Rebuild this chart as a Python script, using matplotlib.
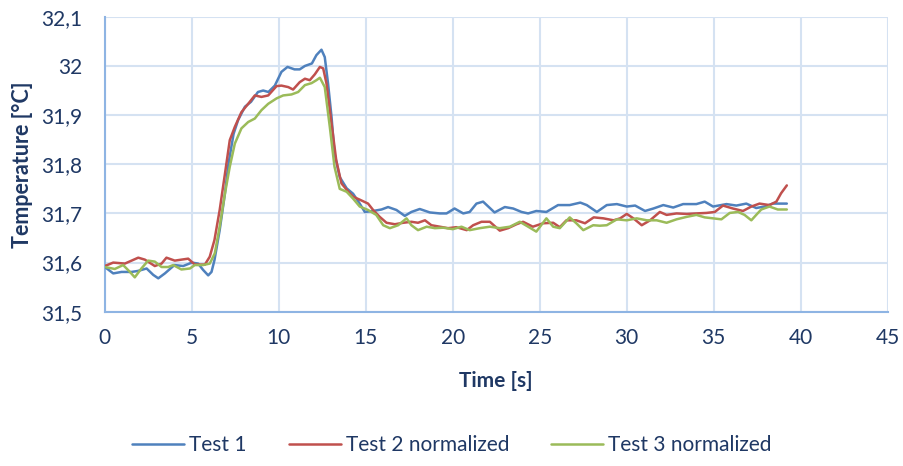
import matplotlib
matplotlib.use("Agg")
import matplotlib.pyplot as plt
from matplotlib.ticker import FuncFormatter

# Test 1
t1 = [0, 0.48, 0.96, 1.53, 1.9, 2.4, 2.78, 3.07, 3.45, 4.0, 4.5, 5.0, 5.36, 5.65, 5.94,
      6.13, 6.3, 6.6, 6.9, 7.1, 7.4, 7.66, 8.05, 8.4, 8.8, 9.1, 9.4, 9.77, 10.15, 10.5,
      10.9, 11.2, 11.5, 11.9, 12.16, 12.45, 12.64, 12.83, 13.03, 13.2, 13.5, 13.9, 14.27,
      14.65, 14.94, 15.42, 15.9, 16.28, 16.76, 17.24, 17.62, 18.1, 18.68, 19.25, 19.64,
      20.1, 20.6, 20.97, 21.36, 21.74, 22.4, 22.99, 23.47, 23.95, 24.33, 24.8, 25.38,
      26.05, 26.72, 27.33, 27.7, 28.28, 28.85, 29.43, 30.0, 30.48, 31.05, 31.53, 32.1,
      32.67, 33.24, 34.0, 34.48, 34.96, 35.73, 36.3, 36.87, 37.44, 37.92, 38.4, 39.2]
temp1 = [31.591, 31.578, 31.581, 31.581, 31.583, 31.588, 31.575, 31.568, 31.578, 31.595,
         31.593, 31.600, 31.598, 31.585, 31.574, 31.581, 31.605, 31.666, 31.74, 31.80,
         31.862, 31.89, 31.917, 31.927, 31.947, 31.95, 31.947, 31.96, 31.988, 31.998,
         31.993, 31.993, 32.0, 32.005, 32.022, 32.033, 32.018, 31.964, 31.896, 31.822,
         31.774, 31.751, 31.74, 31.72, 31.703, 31.705, 31.708, 31.713, 31.707, 31.695,
         31.703, 31.709, 31.702, 31.70, 31.70, 31.71, 31.70, 31.703, 31.72, 31.724,
         31.702, 31.713, 31.71, 31.703, 31.70, 31.705, 31.703, 31.717, 31.717, 31.722,
         31.717, 31.703, 31.717, 31.719, 31.714, 31.716, 31.705, 31.71, 31.717, 31.712,
         31.719, 31.719, 31.724, 31.714, 31.719, 31.716, 31.72, 31.711, 31.714, 31.72,
         31.72]

# Test 2 normalized
t2 = [0, 0.48, 1.15, 1.92, 2.3, 2.87, 3.26, 3.54, 4.02, 4.4, 4.79, 5.17, 5.75, 6.03, 6.3,
      6.6, 6.9, 7.18, 7.47, 7.85, 8.24, 8.62, 9.0, 9.39, 9.87, 10.15, 10.54, 10.82, 11.2,
      11.5, 11.78, 12.07, 12.36, 12.55, 12.74, 13.03, 13.3, 13.6, 14.0, 14.27, 14.65,
      15.13, 15.42, 15.8, 16.19, 16.67, 17.15, 17.62, 18.0, 18.4, 18.77, 19.25, 19.73,
      20.2, 20.8, 21.17, 21.65, 22.13, 22.7, 23.18, 23.66, 24.04, 24.6, 25.2, 25.77,
      26.15, 26.53, 27.1, 27.6, 28.1, 28.66, 29.24, 29.62, 30.0, 30.38, 30.86, 31.34,
      31.9, 32.29, 32.86, 33.44, 34.0, 34.58, 35.06, 35.53, 36.1, 36.68, 37.16, 37.63,
      38.2, 38.6, 38.87, 39.2]
temp2 = [31.593, 31.60, 31.598, 31.61, 31.606, 31.593, 31.598, 31.61, 31.604, 31.606,
         31.608, 31.596, 31.596, 31.612, 31.646, 31.707, 31.78, 31.849, 31.876, 31.906,
         31.923, 31.94, 31.937, 31.94, 31.959, 31.96, 31.957, 31.952, 31.967, 31.974,
         31.971, 31.983, 31.998, 31.995, 31.964, 31.883, 31.808, 31.761, 31.744, 31.734,
         31.728, 31.72, 31.707, 31.693, 31.681, 31.678, 31.681, 31.683, 31.681, 31.686,
         31.676, 31.673, 31.67, 31.672, 31.666, 31.676, 31.683, 31.683, 31.665, 31.67,
         31.678, 31.683, 31.673, 31.68, 31.681, 31.672, 31.686, 31.686, 31.68, 31.692,
         31.69, 31.686, 31.69, 31.699, 31.69, 31.676, 31.686, 31.703, 31.697, 31.70,
         31.699, 31.70, 31.701, 31.703, 31.716, 31.71, 31.705, 31.714, 31.72, 31.717,
         31.724, 31.741, 31.757]

# Test 3 normalized
t3 = [0, 0.57, 1.05, 1.44, 1.72, 2.1, 2.49, 2.87, 3.26, 3.64, 3.93, 4.4, 4.89, 5.17, 5.65,
      6.03, 6.32, 6.6, 6.9, 7.18, 7.47, 7.85, 8.24, 8.62, 9.0, 9.39, 9.87, 10.25, 10.73,
      11.11, 11.5, 11.88, 12.16, 12.36, 12.64, 12.93, 13.2, 13.5, 13.9, 14.27, 14.65,
      15.13, 15.6, 16.0, 16.38, 16.86, 17.34, 17.62, 18.0, 18.5, 18.97, 19.45, 20.0, 20.5,
      20.97, 21.55, 22.13, 22.7, 23.28, 23.85, 24.33, 24.8, 25.38, 25.77, 26.15, 26.72,
      27.1, 27.5, 28.07, 28.45, 28.85, 29.43, 30.0, 30.57, 31.15, 31.72, 32.29, 32.86,
      33.44, 34.0, 34.48, 34.96, 35.44, 35.92, 36.4, 36.77, 37.16, 37.44, 37.73, 38.2,
      38.68, 39.2]
temp3 = [31.591, 31.587, 31.595, 31.581, 31.57, 31.588, 31.604, 31.602, 31.591, 31.591,
         31.595, 31.586, 31.588, 31.595, 31.595, 31.598, 31.619, 31.673, 31.74, 31.795,
         31.842, 31.873, 31.886, 31.893, 31.91, 31.923, 31.934, 31.94, 31.942, 31.947,
         31.961, 31.965, 31.971, 31.976, 31.957, 31.876, 31.795, 31.75, 31.744, 31.73,
         31.714, 31.707, 31.697, 31.676, 31.67, 31.676, 31.69, 31.676, 31.666, 31.673,
         31.67, 31.671, 31.668, 31.673, 31.666, 31.67, 31.673, 31.67, 31.673, 31.683,
         31.673, 31.663, 31.69, 31.673, 31.67, 31.692, 31.68, 31.666, 31.676, 31.675,
         31.676, 31.688, 31.686, 31.69, 31.686, 31.686, 31.681, 31.688, 31.693, 31.697,
         31.692, 31.69, 31.688, 31.701, 31.703, 31.697, 31.686, 31.697, 31.708, 31.714,
         31.708, 31.708]

series_names = ["Test 1", "Test 2 normalized", "Test 3 normalized"]
series_colors = ["#4F81BD", "#C0504D", "#9BBB59"]

x_ticks = [0, 5, 10, 15, 20, 25, 30, 35, 40, 45]
y_ticks = [31.5, 31.6, 31.7, 31.8, 31.9, 32.0, 32.1]

text_color = "#1F3864"
font = ["Lato", "DejaVu Sans"]

fig = plt.figure(figsize=(9.04, 4.66), dpi=100)
ax = fig.add_axes([0.116, 0.331, 0.866, 0.633])

for tt, vv, name, col in zip([t1, t2, t3], [temp1, temp2, temp3], series_names, series_colors):
    ax.plot(tt, vv, color=col, lw=1.8, label=name, solid_joinstyle="round",
            solid_capstyle="round", zorder=3)

ax.set_xlim(0, 45)
ax.set_ylim(31.5, 32.1)
ax.set_xticks(x_ticks)
ax.set_yticks(y_ticks)


def comma_fmt(v, pos):
    s = f"{v:.1f}"
    if s.endswith(".0"):
        s = s[:-2]
    return s.replace(".", ",")


ax.yaxis.set_major_formatter(FuncFormatter(comma_fmt))
ax.grid(True, color="#D5E2F2", lw=1.5, zorder=0)
ax.set_axisbelow(True)
for side in ["top", "right"]:
    ax.spines[side].set_visible(False)
for side in ["left", "bottom"]:
    ax.spines[side].set_color("#8EB4E3")
    ax.spines[side].set_linewidth(1.5)
ax.tick_params(length=0, labelsize=15, labelcolor=text_color)
ax.tick_params(axis="x", pad=12)
ax.tick_params(axis="y", pad=16)
for lab in ax.get_xticklabels() + ax.get_yticklabels():
    lab.set_family(font)

ax.set_xlabel("Time [s]", fontsize=15, fontweight="bold", color=text_color,
              family=font, labelpad=16)
ax.set_ylabel("Temperature [°C]", fontsize=15.5, fontweight="bold", color=text_color,
              family=font, labelpad=8)
ax.yaxis.set_label_coords(-0.092, 0.5)

leg = fig.legend(loc="center", bbox_to_anchor=(0.5, 1 - 445 / 466), ncol=3, frameon=False,
                 prop={"family": font, "size": 15}, handlelength=2.5, columnspacing=2.0,
                 handletextpad=0.25)
for txt in leg.get_texts():
    txt.set_color(text_color)

fig.savefig("out.png", dpi=100)
